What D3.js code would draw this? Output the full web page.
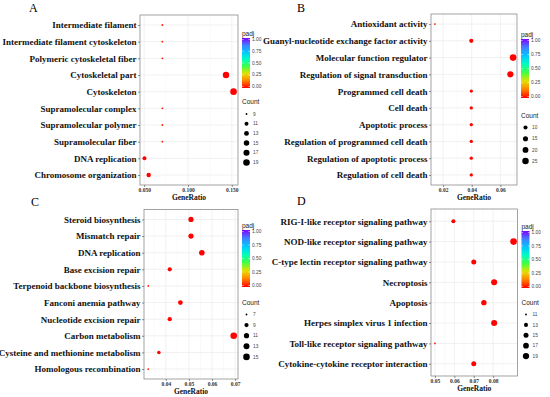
<!DOCTYPE html>
<html>
<head>
<meta charset="utf-8">
<script src="https://cdn.jsdelivr.net/npm/d3@7"></script>
<style>
  body { margin: 0; background: #fff; }
  svg { display: block; }
</style>
</head>
<body>
<div id="chart"></div>
<script>
// Panel A - GO terms
const termsA = ["Intermediate filament", "Intermediate filament cytoskeleton", "Polymeric cytoskeletal fiber",
  "Cytoskeletal part", "Cytoskeleton", "Supramolecular complex", "Supramolecular polymer",
  "Supramolecular fiber", "DNA replication", "Chromosome organization"];
const ratioA = [0.0707, 0.0707, 0.0707, 0.1434, 0.1520, 0.0707, 0.0707, 0.0707, 0.0503, 0.0551];
const countA = [9, 9, 9, 18, 19, 9, 9, 9, 11, 12];
const padjA = [0.03, 0.03, 0.03, 0.001, 0.001, 0.03, 0.03, 0.03, 0.002, 0.002];
const ticksA = [0.05, 0.10, 0.15];
const sizeBreaksA = [9, 11, 13, 15, 17, 19];

// Panel B - GO terms
const termsB = ["Antioxidant activity", "Guanyl-nucleotide exchange factor activity", "Molecular function regulator",
  "Regulation of signal transduction", "Programmed cell death", "Cell death", "Apoptotic process",
  "Regulation of programmed cell death", "Regulation of apoptotic process", "Regulation of cell death"];
const ratioB = [0.0143, 0.0397, 0.0689, 0.0670, 0.0397, 0.0397, 0.0397, 0.0397, 0.0397, 0.0397];
const countB = [5, 10, 26, 22, 7, 7, 7, 7, 7, 7];
const padjB = [0.03, 0.002, 0.001, 0.001, 0.004, 0.004, 0.004, 0.004, 0.004, 0.004];
const ticksB = [0.02, 0.04, 0.06];
const sizeBreaksB = [10, 15, 20, 25];

// Panel C - KEGG pathways
const termsC = ["Steroid biosynthesis", "Mismatch repair", "DNA replication", "Base excision repair",
  "Terpenoid backbone biosynthesis", "Fanconi anemia pathway", "Nucleotide excision repair",
  "Carbon metabolism", "Cysteine and methionine metabolism", "Homologous recombination"];
const ratioC = [0.0509, 0.0509, 0.0556, 0.0417, 0.0324, 0.0463, 0.0417, 0.0694, 0.0370, 0.0324];
const countC = [11, 11, 12, 9, 7, 10, 9, 15, 8, 7];
const padjC = [0.001, 0.001, 0.001, 0.003, 0.03, 0.002, 0.003, 0.001, 0.004, 0.03];
const ticksC = [0.04, 0.05, 0.06, 0.07];
const sizeBreaksC = [7, 9, 11, 13, 15];

// Panel D - KEGG pathways
const termsD = ["RIG-I-like receptor signaling pathway", "NOD-like receptor signaling pathway",
  "C-type lectin receptor signaling pathway", "Necroptosis", "Apoptosis",
  "Herpes simplex virus 1 infection", "Toll-like receptor signaling pathway",
  "Cytokine-cytokine receptor interaction"];
const ratioD = [0.0595, 0.0905, 0.0700, 0.0805, 0.0752, 0.0805, 0.0500, 0.0700];
const countD = [13, 20, 15, 18, 16, 18, 11, 15];
const padjD = [0.002, 0.001, 0.001, 0.001, 0.001, 0.001, 0.03, 0.001];
const ticksD = [0.05, 0.06, 0.07, 0.08];
const sizeBreaksD = [11, 13, 15, 17, 19];

const padjTicks = [0, 0.25, 0.5, 0.75, 1];

const W = 550, H = 397;
const svg = d3.select("#chart").append("svg").attr("width", W).attr("height", H);

const serif = "'Liberation Serif', 'Times New Roman', serif";
const sans = "'Liberation Sans', Arial, sans-serif";

// rainbow gradient used for padj
const rainbow = d3.piecewise(d3.interpolateRgb,
  ["#FF0000", "#FF8000", "#E8E000", "#40FF40", "#00FFC0", "#00C8FF", "#4080FF", "#7F00FF"]);

const defs = svg.append("defs");
const grad = defs.append("linearGradient").attr("id", "padjGrad")
  .attr("x1", 0).attr("y1", 1).attr("x2", 0).attr("y2", 0);
d3.range(0, 1.0001, 0.05).forEach(t => {
  grad.append("stop").attr("offset", t).attr("stop-color", rainbow(t));
});

function drawPanel(p) {
  const g = svg.append("g");
  const ext = d3.extent(p.ratio);
  const pad = (ext[1] - ext[0]) * 0.05;

  const x = d3.scaleLinear().domain([ext[0] - pad, ext[1] + pad]).range([p.left, p.right]);
  const y = d3.scalePoint().domain(p.terms).range([p.top, p.bottom]).padding(0.6);

  // size: area scaled between min and max count
  const cExt = d3.extent(p.count);
  const norm = d3.scaleLinear().domain(cExt).range([0, 1]);
  const rad = d3.scaleLinear().domain([0, 1]).range([0.9, 3.3]);
  const r = c => rad(Math.sqrt(Math.max(0, norm(c))));
  const color = d3.scaleLinear().domain([0, 1]).range([0, 1]).clamp(true);

  // panel letter
  g.append("text").attr("x", p.letterX).attr("y", p.letterY)
    .style("font-family", serif).style("font-size", "12px").text(p.letter);

  // grid
  const minor = [];
  for (let i = 0; i < p.ticks.length - 1; i++) minor.push((p.ticks[i] + p.ticks[i + 1]) / 2);
  const step = p.ticks[1] - p.ticks[0];
  minor.push(p.ticks[0] - step / 2, p.ticks[p.ticks.length - 1] + step / 2);
  g.selectAll(".minor").data(minor.filter(v => x(v) > p.left && x(v) < p.right)).enter()
    .append("line").attr("x1", d => x(d)).attr("x2", d => x(d))
    .attr("y1", p.top).attr("y2", p.bottom).attr("stroke", "#F4F4F4").attr("stroke-width", 0.5);
  g.selectAll(".major").data(p.ticks).enter()
    .append("line").attr("x1", d => x(d)).attr("x2", d => x(d))
    .attr("y1", p.top).attr("y2", p.bottom).attr("stroke", "#EBEBEB").attr("stroke-width", 0.7);
  g.selectAll(".hgrid").data(p.terms).enter()
    .append("line").attr("x1", p.left).attr("x2", p.right)
    .attr("y1", d => y(d)).attr("y2", d => y(d)).attr("stroke", "#EBEBEB").attr("stroke-width", 0.7);

  // border
  g.append("rect").attr("x", p.left).attr("y", p.top)
    .attr("width", p.right - p.left).attr("height", p.bottom - p.top)
    .attr("fill", "none").attr("stroke", "#8C8C8C").attr("stroke-width", 0.8);

  // x axis
  const fmt = d3.format(p.fmt);
  const xAxis = g.append("g").attr("transform", "translate(0," + p.bottom + ")")
    .call(d3.axisBottom(x).tickValues(p.ticks).tickSize(2).tickPadding(1.5).tickFormat(fmt));
  xAxis.select(".domain").remove();
  xAxis.selectAll("line").attr("stroke", "#444").attr("stroke-width", 0.6);
  xAxis.selectAll("text").style("font-family", serif).style("font-weight", "bold")
    .style("font-size", "5.5px").attr("fill", "#333");

  // y axis
  const yAxis = g.append("g").attr("transform", "translate(" + p.left + ",0)")
    .call(d3.axisLeft(y).tickSize(2).tickPadding(1.5));
  yAxis.select(".domain").remove();
  yAxis.selectAll("line").attr("stroke", "#444").attr("stroke-width", 0.6);
  yAxis.selectAll("text").style("font-family", serif).style("font-weight", "bold")
    .style("font-size", "9px").attr("fill", "#111");

  // axis title
  g.append("text").attr("x", (p.left + p.right) / 2).attr("y", p.bottom + 15)
    .attr("text-anchor", "middle").style("font-family", serif).style("font-weight", "bold")
    .style("font-size", "7.5px").attr("fill", "#111").text("GeneRatio");

  // points
  g.selectAll(".pt").data(p.terms).enter().append("circle")
    .attr("cx", (d, i) => x(p.ratio[i]))
    .attr("cy", d => y(d))
    .attr("r", (d, i) => r(p.count[i]))
    .attr("fill", (d, i) => rainbow(color(p.padj[i])));

  // padj colourbar
  const lx = p.right + 4;
  g.append("text").attr("x", lx).attr("y", p.cbTop - 2)
    .style("font-family", sans).style("font-size", "6.5px").attr("fill", "#222").text("padj");
  g.append("rect").attr("x", lx).attr("y", p.cbTop).attr("width", 8)
    .attr("height", p.cbBottom - p.cbTop).attr("fill", "url(#padjGrad)");
  const cb = d3.scaleLinear().domain([0, 1]).range([p.cbBottom - 1.5, p.cbTop + 1.5]);
  g.selectAll(".cbt").data(padjTicks).enter().append("line")
    .attr("x1", lx).attr("x2", lx + 1.6).attr("y1", d => cb(d)).attr("y2", d => cb(d))
    .attr("stroke", "#fff").attr("stroke-width", 0.5);
  g.selectAll(".cbt2").data(padjTicks).enter().append("line")
    .attr("x1", lx + 6.4).attr("x2", lx + 8).attr("y1", d => cb(d)).attr("y2", d => cb(d))
    .attr("stroke", "#fff").attr("stroke-width", 0.5);
  g.selectAll(".cbl").data(padjTicks).enter().append("text")
    .attr("x", lx + 10).attr("y", d => cb(d)).attr("dy", "0.35em")
    .style("font-family", sans).style("font-size", "4.8px").attr("fill", "#444")
    .text(d => d3.format(".2f")(d));

  // count legend
  g.append("text").attr("x", lx).attr("y", p.cntTop)
    .style("font-family", sans).style("font-size", "6.5px").attr("fill", "#222").text("Count");
  p.breaks.forEach((b, i) => {
    const cy = p.cntTop + p.cntFirst + i * p.cntStep;
    g.append("circle").attr("cx", lx + 4.5).attr("cy", cy).attr("r", r(b)).attr("fill", "#000");
    g.append("text").attr("x", lx + 11).attr("y", cy).attr("dy", "0.35em")
      .style("font-family", sans).style("font-size", "4.8px").attr("fill", "#444").text(b);
  });
}

drawPanel({ letter: "A", letterX: 29, letterY: 12, terms: termsA, ratio: ratioA, count: countA, padj: padjA,
  ticks: ticksA, fmt: ".3f", breaks: sizeBreaksA,
  left: 140, right: 238, top: 15, bottom: 185,
  cbTop: 38, cbBottom: 88, cntTop: 104, cntFirst: 10, cntStep: 9.7 });

drawPanel({ letter: "B", letterX: 297, letterY: 12, terms: termsB, ratio: ratioB, count: countB, padj: padjB,
  ticks: ticksB, fmt: ".2f", breaks: sizeBreaksB,
  left: 431, right: 517, top: 14, bottom: 185,
  cbTop: 39, cbBottom: 98, cntTop: 118, cntFirst: 9.5, cntStep: 11.2 });

drawPanel({ letter: "C", letterX: 31, letterY: 206, terms: termsC, ratio: ratioC, count: countC, padj: padjC,
  ticks: ticksC, fmt: ".2f", breaks: sizeBreaksC,
  left: 144, right: 238, top: 209.5, bottom: 379,
  cbTop: 230, cbBottom: 287, cntTop: 305, cntFirst: 9.5, cntStep: 10.6 });

drawPanel({ letter: "D", letterX: 297, letterY: 205, terms: termsD, ratio: ratioD, count: countD, padj: padjD,
  ticks: ticksD, fmt: ".2f", breaks: sizeBreaksD,
  left: 431, right: 517.5, top: 209, bottom: 376,
  cbTop: 231, cbBottom: 288, cntTop: 305, cntFirst: 9.5, cntStep: 10.4 });
</script>
</body>
</html>
